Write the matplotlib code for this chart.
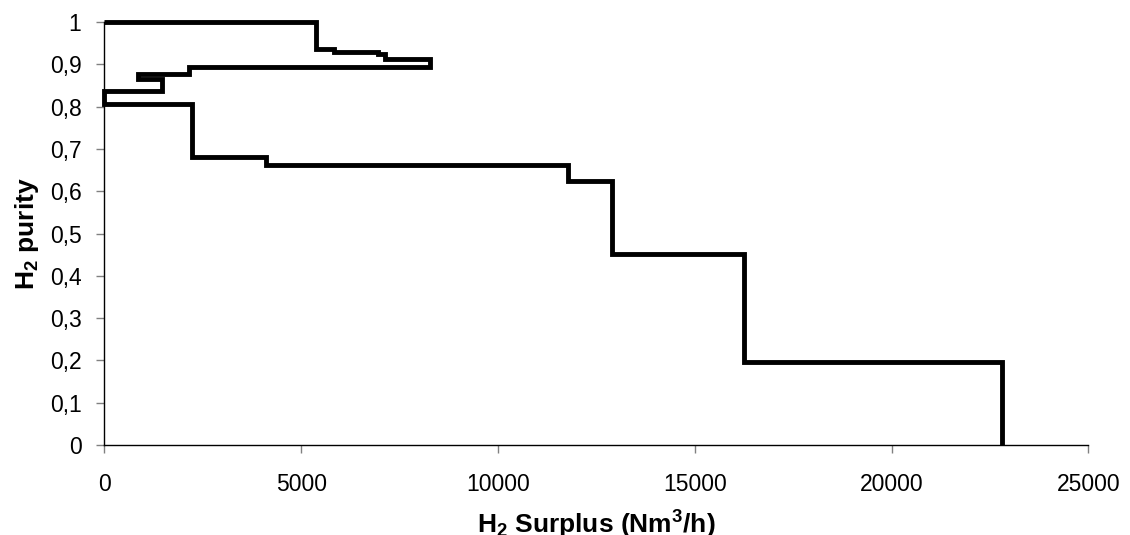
import matplotlib
matplotlib.use("Agg")
import matplotlib.pyplot as plt

# Path vertices of the hydrogen surplus / purity curve (Nm3/h, purity)
surplus = [0, 5370, 5370, 5830, 5830, 6950, 6950, 7130, 7130, 8270, 8270,
           2150, 2150, 850, 850, 1470, 1470, 0, 0, 2230, 2230, 4110, 4110,
           11780, 11780, 12890, 12890, 16250, 16250, 22800, 22800]
purity = [1.0, 1.0, 0.936, 0.936, 0.930, 0.930, 0.925, 0.925, 0.912, 0.912, 0.893,
          0.893, 0.877, 0.877, 0.866, 0.866, 0.838, 0.838, 0.805, 0.805, 0.682, 0.682,
          0.663, 0.663, 0.625, 0.625, 0.451, 0.451, 0.197, 0.197, 0.0]

x_ticks = [0, 5000, 10000, 15000, 20000, 25000]
y_ticks = [0, 0.1, 0.2, 0.3, 0.4, 0.5, 0.6, 0.7, 0.8, 0.9, 1.0]
y_tick_labels = ["0", "0,1", "0,2", "0,3", "0,4", "0,5", "0,6", "0,7", "0,8", "0,9", "1"]

plt.rcParams['font.family'] = ['Liberation Sans', 'DejaVu Sans']
plt.rcParams['mathtext.fontset'] = 'custom'
plt.rcParams['mathtext.rm'] = 'Liberation Sans:bold'
plt.rcParams['mathtext.bf'] = 'Liberation Sans:bold'
plt.rcParams['mathtext.it'] = 'Liberation Sans:bold'

fig = plt.figure(figsize=(11.3, 5.35), dpi=100)
ax = fig.add_axes([104.3 / 1130, 1 - 445 / 535, 984 / 1130, 423 / 535])

ax.plot(surplus, purity, color='black', linewidth=3.5, solid_joinstyle='miter',
        solid_capstyle='butt', clip_on=False, zorder=3)

ax.set_xlim(0, 25000)
ax.set_ylim(0, 1)
ax.set_xticks(x_ticks)
ax.set_xticklabels([str(v) for v in x_ticks])
ax.set_yticks(y_ticks)
ax.set_yticklabels(y_tick_labels)

for side in ['top', 'right']:
    ax.spines[side].set_visible(False)
for side in ['left', 'bottom']:
    ax.spines[side].set_color('black')
    ax.spines[side].set_linewidth(1.0)

ax.tick_params(axis='both', direction='out', length=5.5, width=1.0, color='#808080',
               labelsize=16.5, labelcolor='black')
ax.tick_params(axis='x', pad=15)
ax.tick_params(axis='y', pad=11)

ax.set_xlabel(r'H$_{2}$ Surplus (Nm$^{3}$/h)', fontsize=19, fontweight='bold')
ax.set_ylabel(r'H$_{2}$ purity', fontsize=19, fontweight='bold')
ax.xaxis.set_label_coords(0.5, -0.152)
ax.yaxis.set_label_coords(-0.064, 0.5)

fig.savefig('out.png', dpi=100)
